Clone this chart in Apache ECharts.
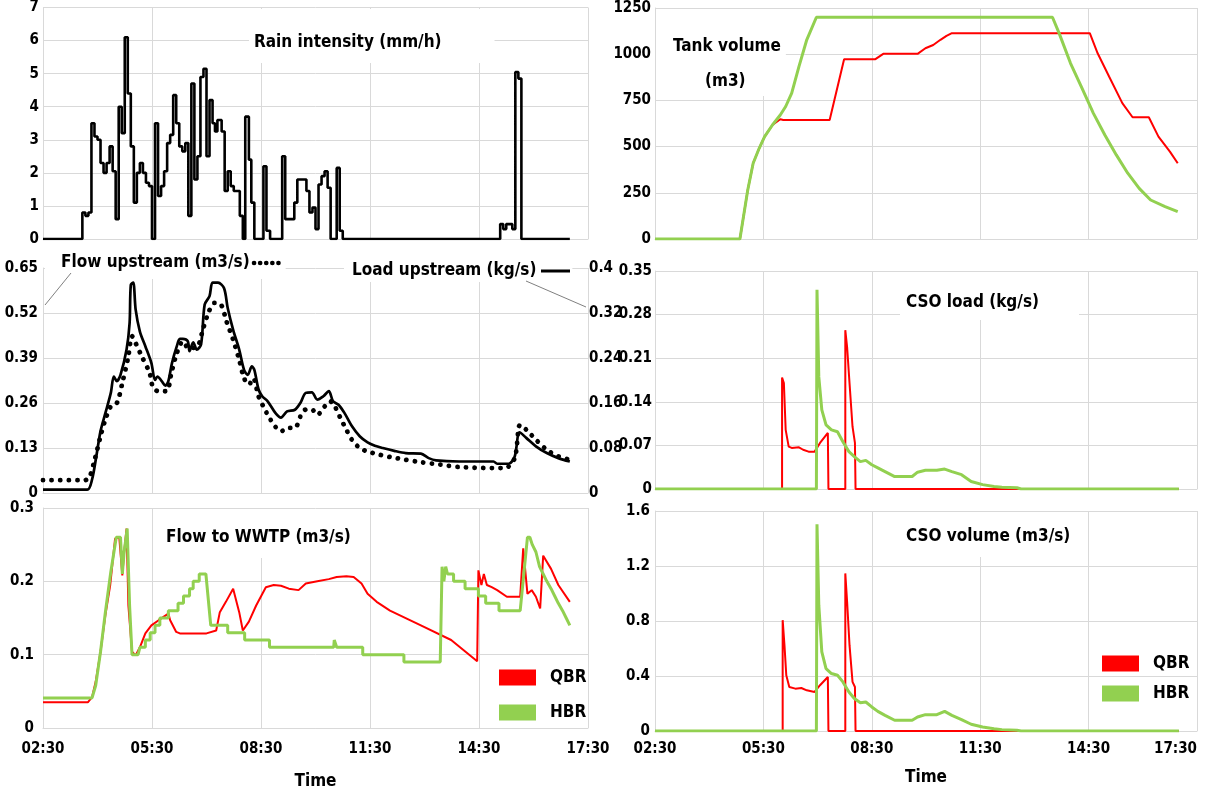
<!DOCTYPE html>
<html><head><meta charset="utf-8">
<script src="https://cdn.jsdelivr.net/npm/echarts@6/dist/echarts.min.js"></script>
<style>html,body{margin:0;padding:0;background:#fff}#c{width:1207px;height:796px}</style>
</head><body><div id="c"></div>
<script>
// ---------------- DATA ----------------
const xTickLabels = ['02:30','05:30','08:30','11:30','14:30','17:30'];

const rainTimes = ['02:30','03:35','03:40','03:45','03:50','03:55','04:00','04:05','04:10','04:15','04:20','04:25','04:30','04:35','04:40','04:45','04:50','04:55','05:00','05:05','05:10','05:15','05:20','05:25','05:30','05:35','05:40','05:45','05:50','05:55','06:00','06:05','06:10','06:15','06:20','06:25','06:30','06:35','06:40','06:45','06:50','06:55','07:00','07:05','07:10','07:14','07:18','07:25','07:30','07:35','07:40','07:45','07:55','08:00','08:04','08:10','08:14','08:19','08:34','08:39','08:45','09:05','09:10','09:25','09:30','09:45','09:50','09:55','10:00','10:05','10:10','10:15','10:20','10:25','10:35','10:40','10:45','15:05','15:10','15:15','15:25','15:30','15:35','15:40','17:00'];
const rainValues = [0,0.8,0.7,0.8,3.5,3.1,3.0,2.3,2.0,2.3,2.8,2.05,0.6,4.0,3.2,6.1,4.4,2.8,1.1,2.0,2.3,2.0,1.7,1.6,0,3.5,1.3,1.6,2.05,2.9,3.15,4.35,3.5,2.8,2.65,2.9,0.7,4.7,1.8,2.5,4.9,5.15,2.5,4.2,3.5,3.25,3.6,3.25,1.45,2.05,1.6,1.45,0.7,0,3.7,2.4,1.1,0,2.2,0.25,0,2.5,0.6,1.1,1.8,1.45,0.8,0.95,0.3,1.65,1.9,2.05,1.55,0,2.15,0.25,0,0.45,0.3,0.45,0.3,5.05,4.85,0,0];

const flowTimes = ['02:30','03:38','03:46','03:54','04:05','04:13','04:22','04:32','04:41','04:51','04:57','05:03','05:13','05:26','05:32','05:41','05:54','06:02','06:11','06:21','06:30','06:38','06:46','06:54','07:03','07:13','07:24','07:33','07:44','07:54','08:02','08:10','08:17','08:26','08:35','08:44','08:53','09:03','09:14','09:26','09:35','09:44','09:54','10:03','10:15','10:24','10:32','10:41','10:51','11:00','11:13','11:26','11:45','12:03','12:29','12:54','13:26','13:57','14:54','15:13','15:29','15:38','15:51','16:04','16:22','16:41','17:00'];
const flowValues = [0.037,0.037,0.043,0.087,0.164,0.212,0.25,0.26,0.318,0.395,0.453,0.433,0.395,0.347,0.303,0.294,0.294,0.347,0.404,0.438,0.419,0.419,0.424,0.472,0.52,0.549,0.544,0.496,0.443,0.385,0.332,0.313,0.332,0.279,0.246,0.217,0.193,0.178,0.188,0.188,0.221,0.241,0.241,0.226,0.25,0.265,0.25,0.217,0.183,0.154,0.13,0.12,0.111,0.104,0.096,0.089,0.082,0.075,0.072,0.072,0.101,0.197,0.178,0.154,0.125,0.106,0.096];

const loadTimes = ['02:30','03:43','03:51','03:58','04:05','04:13','04:22','04:27','04:32','04:38','04:48','04:53','04:55','04:59','05:03','05:10','05:19','05:29','05:35','05:39','05:46','05:52','05:57','06:03','06:11','06:16','06:21','06:29','06:32','06:38','06:44','06:51','06:57','07:05','07:10','07:19','07:29','07:35','07:44','07:54','08:02','08:08','08:15','08:19','08:26','08:32','08:41','08:54','09:03','09:13','09:26','09:35','09:44','09:54','10:03','10:13','10:22','10:29','10:38','10:48','11:00','11:13','11:26','11:38','11:51','12:10','12:29','12:54','13:07','13:19','13:57','14:54','15:00','15:19','15:29','15:37','15:48','16:04','16:22','16:41','17:00'];
const loadValues = [0.006,0.006,0.024,0.065,0.11,0.142,0.178,0.207,0.199,0.21,0.255,0.302,0.37,0.374,0.326,0.287,0.261,0.231,0.201,0.207,0.199,0.191,0.199,0.231,0.261,0.274,0.274,0.27,0.252,0.268,0.255,0.264,0.335,0.35,0.374,0.374,0.364,0.329,0.29,0.255,0.219,0.21,0.225,0.219,0.184,0.172,0.163,0.142,0.134,0.145,0.148,0.16,0.178,0.179,0.166,0.172,0.181,0.163,0.157,0.142,0.119,0.101,0.09,0.084,0.08,0.075,0.071,0.07,0.062,0.058,0.056,0.056,0.052,0.052,0.065,0.108,0.098,0.083,0.071,0.062,0.056];

const wwtpQbrTimes = ['02:30','03:44','03:51','03:57','04:05','04:13','04:21','04:29','04:36','04:41','04:44','04:48','04:51','04:57','05:03','05:10','05:19','05:29','05:41','05:57','06:00','06:10','06:16','07:00','07:16','07:22','07:32','07:44','07:54','08:00','08:10','08:22','08:38','08:51','09:03','09:16','09:32','09:44','10:03','10:22','10:35','10:51','11:03','11:16','11:26','11:41','12:03','12:54','13:44','14:27','14:29','14:34','14:38','14:43','14:51','15:00','15:16','15:38','15:43','15:50','15:57','16:04','16:11','16:16','16:29','16:41','17:00'];
const wwtpQbrValues = [0.035,0.035,0.042,0.063,0.104,0.154,0.195,0.258,0.26,0.208,0.24,0.272,0.167,0.104,0.099,0.11,0.129,0.14,0.147,0.156,0.147,0.131,0.129,0.129,0.133,0.158,0.172,0.19,0.158,0.133,0.145,0.167,0.192,0.195,0.194,0.19,0.188,0.197,0.2,0.203,0.206,0.207,0.206,0.197,0.183,0.172,0.16,0.14,0.12,0.091,0.215,0.195,0.21,0.195,0.192,0.188,0.179,0.179,0.245,0.183,0.188,0.179,0.163,0.235,0.217,0.195,0.172];

const wwtpHbrTimes = ['02:30','03:51','03:57','04:05','04:13','04:22','04:31','04:38','04:41','04:44','04:49','04:53','04:57','05:07','05:10','05:19','05:19','05:27','05:27','05:35','05:35','05:43','05:43','05:57','05:57','06:13','06:13','06:22','06:22','06:32','06:32','06:38','06:38','06:48','06:48','06:59','07:07','07:35','07:35','08:03','08:03','08:44','08:44','10:30','10:31','10:34','10:35','11:18','11:18','12:26','12:26','13:26','13:29','13:32','13:35','13:38','13:48','13:48','14:07','14:07','14:29','14:29','14:41','14:41','15:03','15:03','15:38','15:50','15:54','15:58','16:04','16:10','16:16','16:22','16:29','16:35','16:41','16:48','16:54','17:00'];
const wwtpHbrValues = [0.041,0.041,0.058,0.104,0.158,0.213,0.26,0.26,0.21,0.24,0.272,0.167,0.1,0.1,0.11,0.11,0.12,0.12,0.13,0.13,0.14,0.14,0.15,0.15,0.16,0.16,0.17,0.17,0.18,0.18,0.19,0.19,0.2,0.2,0.21,0.21,0.14,0.14,0.13,0.13,0.12,0.12,0.11,0.11,0.12,0.12,0.11,0.11,0.1,0.1,0.09,0.09,0.22,0.2,0.22,0.21,0.21,0.2,0.2,0.19,0.19,0.18,0.18,0.17,0.17,0.16,0.16,0.26,0.26,0.25,0.24,0.22,0.21,0.2,0.19,0.18,0.17,0.16,0.15,0.14];

const tankHbrTimes = ['02:30','04:51','05:04','05:13','05:23','05:32','05:45','05:58','06:07','06:17','06:29','06:42','06:58','13:30','13:41','14:00','14:19','14:38','14:57','15:16','15:35','15:54','16:13','16:37','16:58'];
const tankHbrValues = [0,0,265,410,491,554,617,671,717,789,933,1078,1200,1200,1114,951,816,680,563,455,356,274,211,175,148];
const tankQbrTimes = ['02:30','04:51','05:04','05:13','05:23','05:32','05:45','05:58','06:03','07:20','07:44','08:36','08:49','09:46','09:59','10:12','10:24','10:34','10:43','14:32','14:45','15:04','15:26','15:43','16:10','16:26','16:45','16:58'];
const tankQbrValues = [0,0,265,410,491,554,617,648,644,644,973,973,1002,1002,1032,1050,1078,1099,1114,1114,1005,879,735,659,659,554,473,410];

const csoQbrLoadTimes = ['02:30','06:01','06:01','06:04','06:07','06:12','06:17','06:29','06:36','06:45','06:55','07:04','07:17','07:18','07:46','07:46','07:49','07:53','07:58','08:02','08:03','17:00'];
const csoQbrLoadValues = [0,0,0.179,0.17,0.095,0.068,0.066,0.067,0.063,0.06,0.06,0.074,0.09,0,0,0.255,0.228,0.17,0.1,0.074,0,0];
const csoHbrTimes = ['02:30','06:58','06:59','07:02','07:07','07:14','07:23','07:33','07:42','07:52','08:01','08:11','08:20','08:30','08:40','08:52','09:08','09:37','09:46','09:59','10:18','10:31','10:43','10:59','11:15','11:34','11:53','12:06','12:31','12:38','17:00'];
const csoHbrLoadValues = [0,0,0.32,0.18,0.127,0.103,0.095,0.092,0.076,0.06,0.052,0.044,0.046,0.039,0.034,0.028,0.02,0.02,0.027,0.03,0.03,0.032,0.028,0.023,0.012,0.007,0.004,0.003,0.002,0,0];

const csoQbrVolTimes = ['02:30','06:02','06:02','06:05','06:08','06:13','06:23','06:33','06:42','06:55','07:04','07:17','07:18','07:46','07:46','07:49','07:53','07:58','08:02','08:03','17:00'];
const csoQbrVolValues = [0,0,0.806,0.624,0.405,0.32,0.308,0.313,0.296,0.284,0.333,0.393,0,0,1.146,0.94,0.624,0.357,0.32,0,0];
const csoHbrVolValues = [0,0,1.503,0.915,0.575,0.454,0.418,0.405,0.357,0.284,0.236,0.206,0.211,0.175,0.143,0.114,0.078,0.078,0.102,0.119,0.119,0.143,0.114,0.083,0.049,0.029,0.017,0.01,0.005,0,0];

// ---------------- HELPERS ----------------
const FONT = "'Liberation Sans Narrow','DejaVu Sans Condensed','Arial Narrow',sans-serif";
const GRIDC = '#d9d9d9';
const RED = '#ff0000', GREEN = '#92d050';
const toMin = s => { const p = s.split(':').map(Number); return p[0] * 60 + p[1] - 150; };
const pairs = (t, v) => t.map((s, i) => [toMin(s), v[i]]);
const fmtTime = v => xTickLabels[Math.round(v / 180)] || '';
const LBL = { color: '#000', fontFamily: FONT, fontSize: 15, fontWeight: 'bold' };
const TTL = { color: '#000', fontFamily: FONT, fontSize: 17, fontWeight: 'bold', lineHeight: 22 };

const grids = [
  { left: 43, top: 7, width: 545, height: 232 },
  { left: 43, top: 268, width: 545, height: 225 },
  { left: 43, top: 508, width: 545, height: 220 },
  { left: 655, top: 8, width: 542, height: 231 },
  { left: 655, top: 271, width: 542, height: 218 },
  { left: 655, top: 511, width: 542, height: 220 }
];

const xAxes = grids.map((g, i) => {
  const bottom = (i === 2 || i === 5);
  return {
    type: 'value', gridIndex: i, min: 0, max: 900, interval: 180,
    axisLine: { show: true, lineStyle: { color: GRIDC } },
    axisTick: { show: false },
    splitLine: { show: true, lineStyle: { color: GRIDC } },
    axisLabel: bottom ? Object.assign({}, LBL, { formatter: fmtTime, margin: i === 2 ? 14 : 11, alignMaxLabel: i === 5 ? 'right' : null }) : { show: false },
    name: bottom ? 'Time' : '', nameLocation: 'middle', nameGap: i === 2 ? 43 : 36,
    nameTextStyle: Object.assign({}, TTL)
  };
});

const fmtNum = v => String(+v.toFixed(2));
function yAx(gi, max, interval, margin, extra) {
  return Object.assign({
    type: 'value', gridIndex: gi, min: 0, max: max, interval: interval,
    axisLine: { show: true, lineStyle: { color: GRIDC } },
    axisTick: { show: false },
    splitLine: { show: true, lineStyle: { color: GRIDC } },
    axisLabel: Object.assign({}, LBL, { formatter: fmtNum, margin: margin })
  }, extra || {});
}
const yAxes = [
  yAx(0, 7, 1, 4),
  yAx(1, 0.65, 0.13, 5),
  yAx(1, 0.4, 0.08, 1, { position: 'right', splitLine: { show: false }, axisLine: { show: false } }),
  yAx(2, 0.3, 0.1, 9),
  yAx(3, 1250, 250, 4),
  yAx(4, 0.35, 0.07, 3),
  yAx(5, 1.6, 0.4, 5)
];

function line(name, xi, yi, data, color, width, extra) {
  return Object.assign({
    name: name, type: 'line', xAxisIndex: xi, yAxisIndex: yi, data: data,
    showSymbol: false, symbol: 'none', animation: false,
    lineStyle: { color: color, width: width }, itemStyle: { color: color }
  }, extra || {});
}

const series = [
  line('Rain intensity', 0, 0, pairs(rainTimes, rainValues), '#000', 2.6, { step: 'end' }),
  line('Flow upstream', 1, 1, pairs(flowTimes, flowValues), '#000', 4.8, { smooth: 0.3, lineStyle: { color: '#000', width: 4.8, type: [0.1, 8.5], cap: 'round' } }),
  line('Load upstream', 1, 2, pairs(loadTimes, loadValues), '#000', 2.7, { smooth: 0.3 }),
  line('QBR', 2, 3, pairs(wwtpQbrTimes, wwtpQbrValues), RED, 2),
  line('HBR', 2, 3, pairs(wwtpHbrTimes, wwtpHbrValues), GREEN, 3),
  line('QBR', 3, 4, pairs(tankQbrTimes, tankQbrValues), RED, 2),
  line('HBR', 3, 4, pairs(tankHbrTimes, tankHbrValues), GREEN, 3),
  line('QBR', 4, 5, pairs(csoQbrLoadTimes, csoQbrLoadValues), RED, 2),
  line('HBR', 4, 5, pairs(csoHbrTimes, csoHbrLoadValues), GREEN, 3),
  line('QBR', 5, 6, pairs(csoQbrVolTimes, csoQbrVolValues), RED, 2),
  line('HBR', 5, 6, pairs(csoHbrTimes, csoHbrVolValues), GREEN, 3)
];

const titles = [
  { text: 'Rain intensity (mm/h)', left: 249, top: 9, padding: [23, 53, 9, 5] },
  { text: 'Flow upstream (m3/s)', left: 45, top: 248, padding: [4, 36, 5, 16] },
  { text: 'Load upstream (kg/s)', left: 344, top: 255, padding: [5, 36, 0, 8] },
  { text: 'Flow to WWTP (m3/s)', left: 158, top: 509, padding: [18, 7, 9, 8] },
  { text: 'Tank volume', left: 656, top: 9, padding: [27, 5, 38, 17] },
  { text: '(m3)', left: 705, top: 71, padding: 0, backgroundColor: 'transparent' },
  { text: 'CSO load (kg/s)', left: 900, top: 272, padding: [20, 40, 6, 6] },
  { text: 'CSO volume (m3/s)', left: 895, top: 512, padding: [14, 10, 9, 11] }
].map(t => Object.assign({ backgroundColor: '#fff', textStyle: TTL, z: 6 }, t));

const legendBase = {
  orient: 'vertical', icon: 'rect', itemWidth: 37, itemHeight: 16,
  data: ['QBR', 'HBR'], selectedMode: false,
  textStyle: { color: '#000', fontFamily: FONT, fontSize: 17, fontWeight: 'bold', padding: [0, 0, 0, 9] }
};

const chart = echarts.init(document.getElementById('c'), null, { renderer: 'canvas' });
chart.setOption({
  animation: false,
  backgroundColor: '#fff',
  grid: grids,
  xAxis: xAxes,
  yAxis: yAxes,
  title: titles,
  legend: [
    Object.assign({}, legendBase, { left: 494, top: 664, itemGap: 18 }),
    Object.assign({}, legendBase, { left: 1097, top: 650, itemGap: 13 })
  ],
  series: series,
  graphic: [
    { type: 'line', z: 100, shape: { x1: 254, y1: 263, x2: 282, y2: 263 }, style: { stroke: '#000', lineWidth: 4.6, lineDash: [0.1, 6], lineCap: 'round' } },
    { type: 'line', z: 100, shape: { x1: 541, y1: 271, x2: 570, y2: 271 }, style: { stroke: '#000', lineWidth: 3 } },
    { type: 'line', z: 100, shape: { x1: 71, y1: 273, x2: 45, y2: 305 }, style: { stroke: '#808080', lineWidth: 1 } },
    { type: 'line', z: 100, shape: { x1: 526, y1: 281, x2: 586, y2: 307 }, style: { stroke: '#808080', lineWidth: 1 } }
  ]
});
</script>
</body></html>
